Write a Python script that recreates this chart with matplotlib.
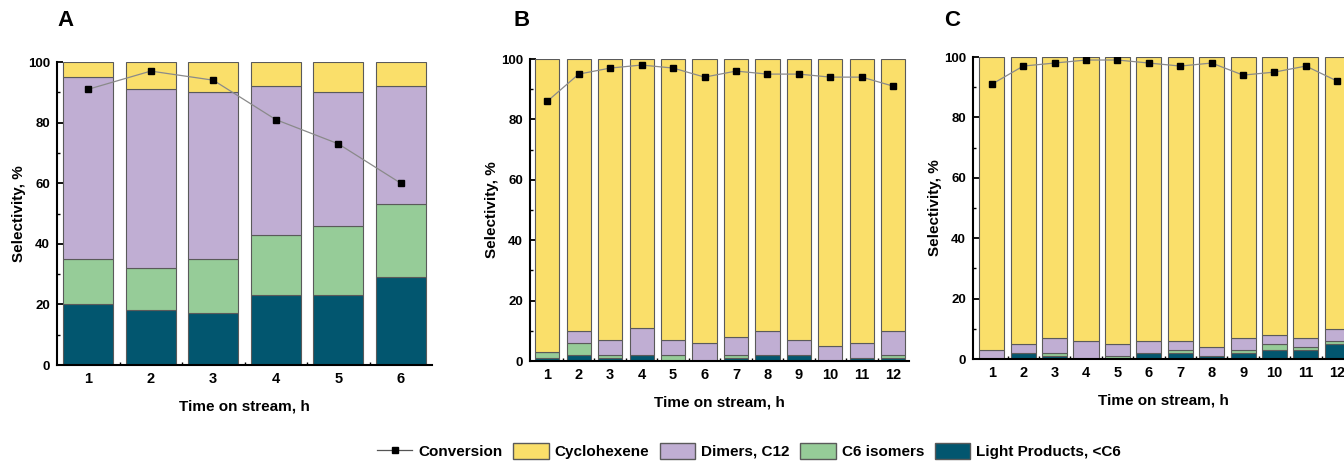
import matplotlib
matplotlib.use("Agg")
import matplotlib.pyplot as plt
from matplotlib.lines import Line2D
from matplotlib.patches import Patch
from matplotlib.ticker import MultipleLocator

plt.rcParams['font.family'] = ['Liberation Sans', 'DejaVu Sans']
plt.rcParams['font.weight'] = 'bold'

# panel A
A_hours = [1, 2, 3, 4, 5, 6]
A_light = [20, 18, 17, 23, 23, 29]
A_c6 = [15, 14, 18, 20, 23, 24]
A_dim = [60, 59, 55, 49, 44, 39]
A_cyc = [5, 9, 10, 8, 10, 8]
A_conv = [91, 97, 94, 81, 73, 60]

# panel B
B_hours = list(range(1, 13))
B_light = [1, 2, 1, 2, 0, 0, 1, 2, 2, 0, 1, 1]
B_c6 = [2, 4, 1, 0, 2, 0, 1, 0, 0, 0, 0, 1]
B_dim = [0, 4, 5, 9, 5, 6, 6, 8, 5, 5, 5, 8]
B_cyc = [97, 90, 93, 89, 93, 94, 92, 90, 93, 95, 94, 90]
B_conv = [86, 95, 97, 98, 97, 94, 96, 95, 95, 94, 94, 91]

# panel C
C_hours = list(range(1, 13))
C_light = [0, 2, 1, 0, 0, 2, 2, 1, 2, 3, 3, 5]
C_c6 = [0, 0, 1, 0, 1, 0, 1, 0, 1, 2, 1, 1]
C_dim = [3, 3, 5, 6, 4, 4, 3, 3, 4, 3, 3, 4]
C_cyc = [97, 95, 93, 94, 95, 94, 94, 96, 93, 92, 93, 90]
C_conv = [91, 97, 98, 99, 99, 98, 97, 98, 94, 95, 97, 92]

col_cyc = '#FADF6A'
col_dim = '#C0AED3'
col_c6 = '#96CC98'
col_light = '#02566F'
edge = '#5a5a5a'

W, H = 1344, 461
fig = plt.figure(figsize=(W / 100, H / 100), dpi=100)


def px_axes(x0, x1, ytop, ybot):
    return fig.add_axes([x0 / W, 1 - ybot / H, (x1 - x0) / W, (ybot - ytop) / H])


def panel(ax, hours, light, c6, dim, cyc, conv, xlim, width):
    b1 = [l + c for l, c in zip(light, c6)]
    b2 = [b + d for b, d in zip(b1, dim)]
    kw = dict(width=width, edgecolor=edge, linewidth=0.8, zorder=2)
    ax.bar(hours, light, color=col_light, **kw)
    ax.bar(hours, c6, bottom=light, color=col_c6, **kw)
    ax.bar(hours, dim, bottom=b1, color=col_dim, **kw)
    ax.bar(hours, cyc, bottom=b2, color=col_cyc, **kw)
    ax.plot(hours, conv, color='#8a8a8a', linewidth=0.9, marker='s',
            markersize=5, markerfacecolor='black', markeredgecolor='black', zorder=3)
    ax.set_xlim(*xlim)
    ax.set_ylim(0, 100)
    ax.set_xticks(hours)
    ax.set_xticks([h + 0.5 for h in hours[:-1]], minor=True)
    ax.yaxis.set_major_locator(MultipleLocator(20))
    ax.yaxis.set_minor_locator(MultipleLocator(10))
    ax.tick_params(axis='both', which='major', direction='in', length=4, width=1.3,
                   labelsize=9.5, pad=5)
    ax.tick_params(axis='both', which='minor', direction='in', length=2, width=1)
    ax.tick_params(axis='x', labelsize=10.5)
    for s in ['top', 'right']:
        ax.spines[s].set_visible(False)
    for s in ['left', 'bottom']:
        ax.spines[s].set_linewidth(1.5)
    ax.set_xlabel('Time on stream, h', fontsize=11, fontweight='bold', labelpad=10)
    ax.set_ylabel('Selectivity, %', fontsize=11, fontweight='bold', labelpad=1.5)


axA = px_axes(57, 432, 62, 365)
panel(axA, A_hours, A_light, A_c6, A_dim, A_cyc, A_conv, (0.5, 6.5), 0.8)
axB = px_axes(530, 909, 59, 361)
panel(axB, B_hours, B_light, B_c6, B_dim, B_cyc, B_conv, (0.45, 12.5), 0.77)
axC = px_axes(973, 1353, 57, 359)
panel(axC, C_hours, C_light, C_c6, C_dim, C_cyc, C_conv, (0.4, 12.5), 0.8)

for lab, x in [('A', 65), ('B', 522), ('C', 952)]:
    fig.text(x / W, 1 - 20 / H, lab, fontsize=16, fontweight='bold', va='center', ha='center')

handles = [
    Line2D([], [], color='#555555', linewidth=0.9, marker='s', markersize=4,
           markerfacecolor='black', markeredgecolor='black'),
    Patch(facecolor=col_cyc, edgecolor=edge),
    Patch(facecolor=col_dim, edgecolor=edge),
    Patch(facecolor=col_c6, edgecolor=edge),
    Patch(facecolor=col_light, edgecolor=edge),
]
labels = ['Conversion', 'Cyclohexene', 'Dimers, C12', 'C6 isomers', 'Light Products, <C6']
fig.legend(handles, labels, loc='center', bbox_to_anchor=(749 / W, 1 - 451 / H), ncol=5,
           frameon=False, fontsize=11, handlelength=2.3, handleheight=1.2,
           columnspacing=0.7, handletextpad=0.4, borderpad=0)

fig.savefig('out.png', dpi=100)
